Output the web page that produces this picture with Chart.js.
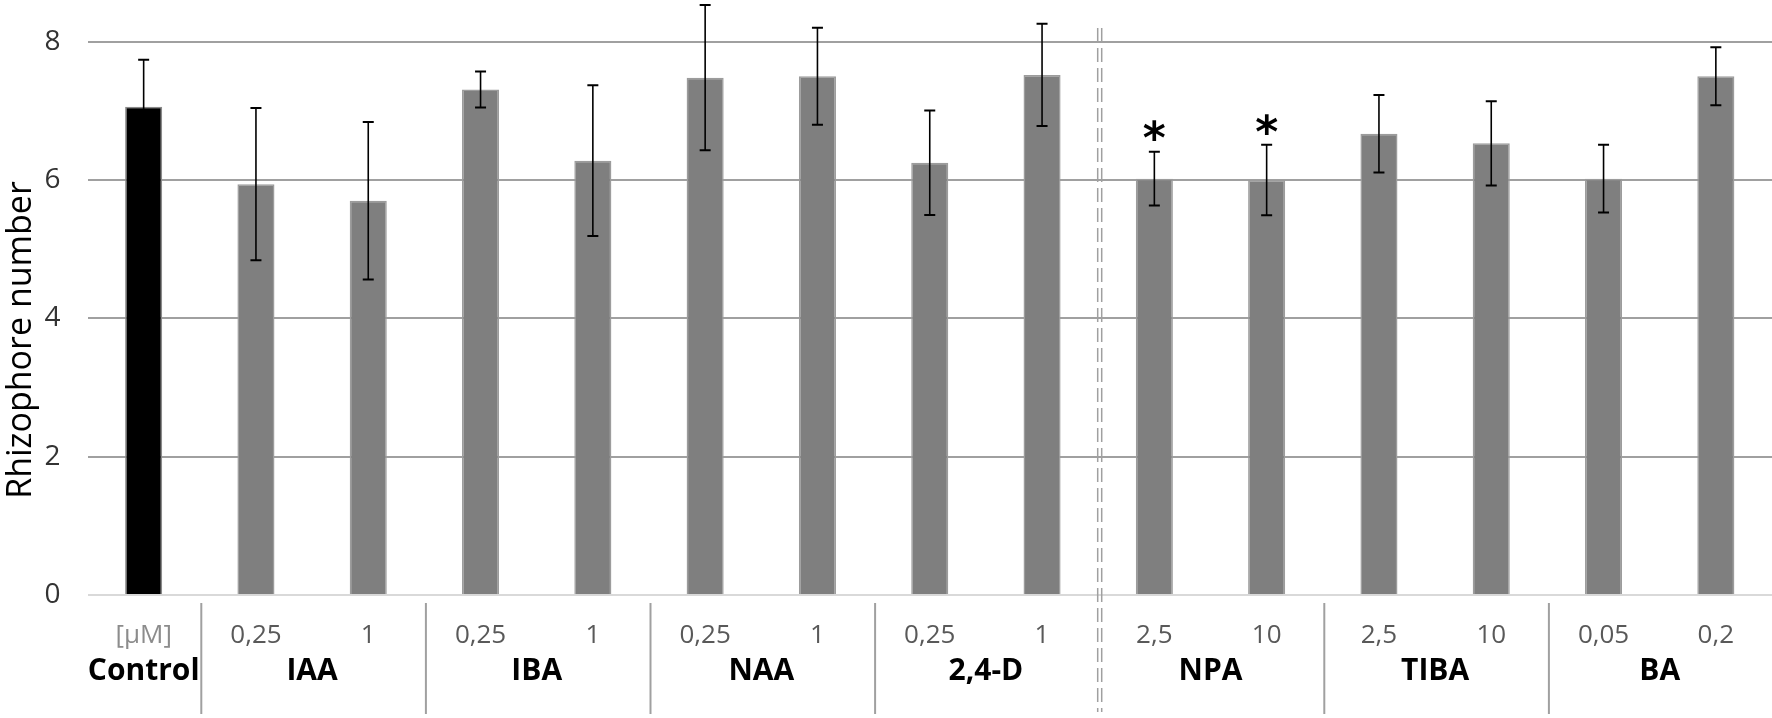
<!DOCTYPE html>
<html>
<head>
<meta charset="utf-8">
<title>Rhizophore number</title>
<script src="https://cdn.jsdelivr.net/npm/chart.js@4.4.1/dist/chart.umd.min.js"></script>
<style>
  html, body { margin: 0; padding: 0; background: #ffffff; }
  .chart-container { position: relative; width: 1772px; height: 718px; }
</style>
</head>
<body>
<div class="chart-container"><canvas id="gr1"></canvas></div>
<script>
// concentration under each bar
const concLabels = ['[\u00b5M]', '0,25', '1', '0,25', '1', '0,25', '1', '0,25', '1', '2,5', '10', '2,5', '10', '0,05', '0,2'];
// treatment groups and how many bars each one has
const groupNames = ['Control', 'IAA', 'IBA', 'NAA', '2,4-D', 'NPA', 'TIBA', 'BA'];
const groupSizes = [1, 2, 2, 2, 2, 2, 2, 2];
// mean rhizophore number and error
const means  = [7.06, 5.94, 5.70, 7.31, 6.28, 7.48, 7.50, 6.25, 7.52, 6.02, 6.00, 6.67, 6.53, 6.02, 7.50];
const errors = [0.68, 1.10, 1.14, 0.26, 1.09, 1.05, 0.70, 0.755, 0.74, 0.39, 0.51, 0.56, 0.61, 0.49, 0.42];
const significant = [0, 0, 0, 0, 0, 0, 0, 0, 0, 1, 1, 0, 0, 0, 0];
const yTicks = [0, 2, 4, 6, 8];
const dashedBeforeGroup = 'NPA';

const barColors = means.map((v, i) => i === 0 ? '#000000' : '#7f7f7f');
const barBorders = means.map((v, i) => i === 0 ? '#8a8a8a' : '#9c9c9c');

const extras = {
  id: 'extras',
  afterDatasetsDraw(chart) {
    const ctx = chart.ctx;
    const y = chart.scales.y;
    const bars = chart.getDatasetMeta(0).data;
    ctx.save();
    ctx.strokeStyle = '#000000';
    ctx.fillStyle = '#000000';
    bars.forEach((bar, i) => {
      const top = y.getPixelForValue(means[i] + errors[i]);
      const bot = y.getPixelForValue(means[i] - errors[i]);
      ctx.lineWidth = 1.6;
      ctx.beginPath();
      ctx.moveTo(bar.x, top);
      ctx.lineTo(bar.x, bot);
      ctx.stroke();
      ctx.lineWidth = 2;
      ctx.beginPath();
      ctx.moveTo(bar.x - 5.5, top); ctx.lineTo(bar.x + 5.5, top);
      ctx.moveTo(bar.x - 5.5, bot); ctx.lineTo(bar.x + 5.5, bot);
      ctx.stroke();
      if (significant[i]) {
        ctx.font = 'bold 44px "DejaVu Sans"';
        ctx.textAlign = 'center';
        ctx.textBaseline = 'alphabetic';
        const m = ctx.measureText('*');
        const cy = y.getPixelForValue(means[i] + errors[i] + 0.3);
        const base = cy + (m.actualBoundingBoxAscent - m.actualBoundingBoxDescent) / 2;
        ctx.fillText('*', bar.x, base);
      }
    });
    ctx.restore();
  },
  afterDraw(chart) {
    const ctx = chart.ctx;
    const x = chart.scales.x;
    const area = chart.chartArea;
    ctx.save();
    // concentration row
    ctx.textAlign = 'center';
    ctx.textBaseline = 'middle';
    concLabels.forEach((lab, i) => {
      ctx.font = '26px "Open Sans"';
      ctx.fillStyle = i === 0 ? '#8c8c8c' : '#595959';
      ctx.fillText(lab, x.getPixelForValue(i), 636);
    });
    // group row and separators
    let start = 0;
    groupNames.forEach((name, g) => {
      const end = start + groupSizes[g] - 1;
      const cx = (x.getPixelForValue(start) + x.getPixelForValue(end)) / 2;
      ctx.font = 'bold 30px "Open Sans"';
      ctx.fillStyle = '#000000';
      ctx.fillText(name, cx, 671);
      if (start > 0) {
        const sx = (x.getPixelForValue(start - 1) + x.getPixelForValue(start)) / 2 + 1.5;
        ctx.strokeStyle = '#a0a0a0';
        if (name === dashedBeforeGroup) {
          ctx.lineWidth = 1.5;
          ctx.setLineDash([14, 6]);
          [-2, 2].forEach(d => {
            ctx.beginPath();
            ctx.moveTo(sx + d, 28);
            ctx.lineTo(sx + d, 712);
            ctx.stroke();
          });
          ctx.setLineDash([]);
        } else {
          ctx.lineWidth = 2;
          ctx.beginPath();
          ctx.moveTo(sx, area.bottom + 8);
          ctx.lineTo(sx, 714);
          ctx.stroke();
        }
      }
      start = end + 1;
    });
    // y axis title
    ctx.translate(21, 340);
    ctx.rotate(-Math.PI / 2);
    ctx.font = '34px "Open Sans"';
    ctx.fillStyle = '#000000';
    ctx.fillText('Rhizophore number', 0, 0);
    ctx.restore();
  }
};

const config = {
  type: 'bar',
  data: {
    labels: concLabels,
    datasets: [{
      data: means,
      backgroundColor: barColors,
      borderColor: barBorders,
      borderWidth: 1.5,
      barPercentage: 0.33,
      categoryPercentage: 1.0,
      clip: false
    }]
  },
  options: {
    responsive: true,
    maintainAspectRatio: false,
    animation: false,
    layout: { padding: { left: 0, right: 0, top: 41.7, bottom: 123 } },
    plugins: {
      legend: { display: false },
      tooltip: { enabled: false },
      title: { display: false }
    },
    scales: {
      x: { display: false },
      y: {
        min: 0,
        max: 8,
        afterBuildTicks: (s) => { s.ticks = yTicks.map(v => ({ value: v })); },
        afterFit: (s) => { s.width = 87.5; s.paddingTop = 0; s.paddingBottom = 0; },
        border: { display: false },
        grid: {
          drawTicks: false,
          lineWidth: 2,
          color: (c) => c.tick && c.tick.value === 0 ? '#d9d9d9' : '#a0a0a0'
        },
        ticks: {
          padding: 27,
          color: '#333333',
          font: { family: 'Open Sans', size: 28 }
        }
      }
    }
  },
  plugins: [extras]
};

const ctx = document.getElementById('gr1').getContext('2d');
const graph1 = new Chart(ctx, config);
</script>
</body>
</html>
